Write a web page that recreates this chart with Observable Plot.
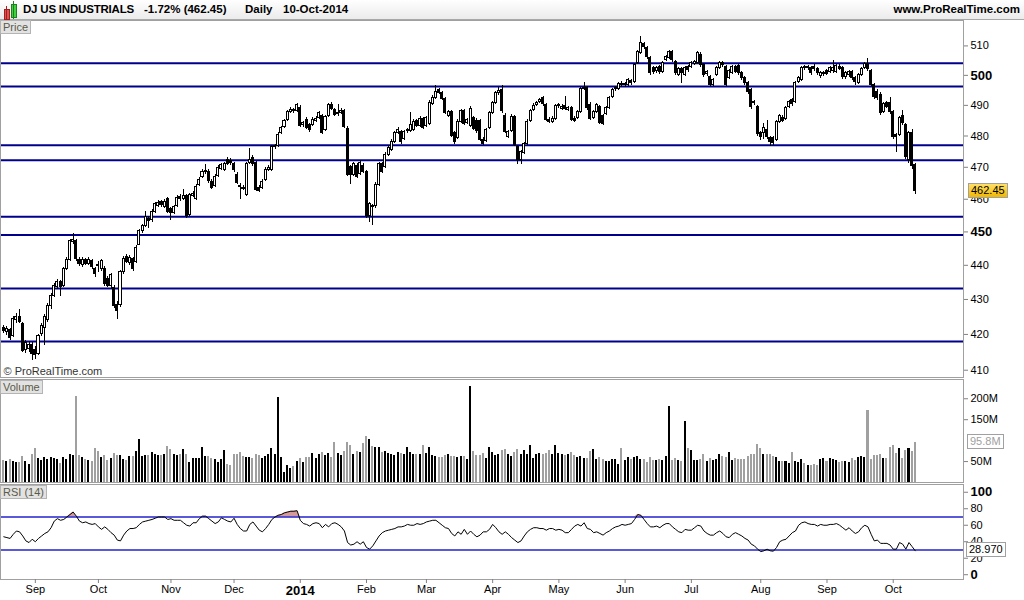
<!DOCTYPE html>
<html><head><meta charset="utf-8">
<script src="https://cdn.jsdelivr.net/npm/d3@7"></script>
<script src="https://cdn.jsdelivr.net/npm/@observablehq/plot@0.6"></script>
<style>
body{margin:0;background:#fff;font-family:"Liberation Sans",Arial,sans-serif;}
#wrap{position:relative;width:1024px;height:600px;overflow:hidden;background:#fff;}
#hdr{position:absolute;left:0;top:0;width:1024px;height:20px;background:linear-gradient(#ffffff,#ebebeb);border-bottom:1px solid #a8a8a8;box-sizing:border-box;}
.ht{position:absolute;top:3px;font-weight:bold;font-size:11.5px;color:#000;white-space:nowrap;}
.tag{position:absolute;left:0;background:#e2e2e2;border:1px solid #b4b4b4;font-size:11px;color:#5a5a48;padding:0 2px;line-height:12px;white-space:nowrap;}
.vbox{position:absolute;font-size:11px;line-height:13px;padding:0 2px;border:1px solid #a0a0a0;white-space:nowrap;}
</style></head>
<body><div id="wrap">
<div id="hdr">
  <div style="position:absolute;left:4px;top:9px;width:4px;height:9px;background:#e05050;border:1px solid #a02020"></div>
  <div style="position:absolute;left:6px;top:6px;width:1px;height:14px;background:#a02020"></div>
  <div style="position:absolute;left:11px;top:4px;width:4px;height:12px;background:#40d040;border:1px solid #208020"></div>
  <div style="position:absolute;left:13px;top:1px;width:1px;height:18px;background:#208020"></div>
  <div class="ht" style="left:23px;letter-spacing:-0.2px">DJ US INDUSTRIALS</div>
  <div class="ht" style="left:144px">-1.72% (462.45)</div>
  <div class="ht" style="left:245px">Daily</div>
  <div class="ht" style="left:283px">10-Oct-2014</div>
  <div class="ht" style="right:4px">www.ProRealTime.com</div>
</div>
</div>
<script>
// ---- data ----
const open = [
421.8,420.6,421.3,419.5,424.0,425.0,423.0,415.5,415.8,417.0,
415.5,414.5,420.0,421.8,424.0,428.0,431.0,433.5,435.0,434.0,
439.0,441.5,447.0,447.3,441.5,440.0,441.5,440.5,441.2,438.8,
440.2,438.8,439.0,436.0,434.0,433.4,428.5,428.3,437.9,442.4,
440.8,441.8,441.0,446.2,450.2,451.7,454.0,453.5,456.0,458.0,
459.0,457.5,460.0,457.0,455.8,458.0,460.8,460.0,461.0,455.0,
461.0,460.0,464.5,467.0,468.4,468.6,465.5,464.0,467.3,469.5,
469.3,472.4,472.0,471.0,467.7,464.1,463.5,461.3,471.5,473.0,
471.3,463.6,463.6,466.0,469.2,469.3,476.4,476.7,481.0,482.9,
485.2,487.8,488.5,488.0,489.2,483.5,485.3,483.5,483.6,485.0,
486.0,486.5,482.0,486.5,490.2,488.5,487.0,487.6,488.0,482.4,
470.0,467.6,470.5,468.0,470.5,468.5,454.7,457.8,457.8,464.5,
470.9,470.0,474.0,475.4,478.0,481.0,481.2,479.0,481.5,481.5,
481.8,484.8,483.3,485.5,483.4,484.0,490.5,492.5,495.0,494.0,
492.1,486.5,487.7,481.0,479.5,484.5,488.2,484.3,483.2,485.8,
485.0,484.8,478.8,478.5,482.5,487.5,490.8,494.0,495.0,486.6,
479.8,481.5,486.2,476.5,472.4,474.7,477.4,485.0,488.4,490.0,
491.2,492.3,490.0,485.3,484.6,485.6,489.7,488.8,489.8,488.5,
489.0,485.6,486.0,487.8,495.4,495.6,490.2,485.8,487.8,489.5,
486.5,487.2,489.0,492.8,495.3,495.5,497.2,496.6,496.7,498.0,
497.6,504.1,507.5,510.5,509.2,505.8,502.4,501.3,502.7,501.2,
505.1,505.8,507.8,504.4,500.0,502.0,500.0,502.7,502.7,503.9,
504.1,507.0,503.4,500.3,499.3,496.7,500.0,502.4,504.1,502.7,
499.0,500.7,502.7,503.1,500.7,499.0,497.3,495.0,491.0,489.4,
480.9,480.9,481.9,479.3,479.3,478.6,484.4,486.0,485.5,489.4,
491.7,491.0,497.6,498.5,502.7,502.4,502.4,502.7,502.0,499.7,
500.3,501.4,501.0,501.3,501.0,502.9,502.4,499.3,500.0,501.0,
499.0,497.3,500.0,502.4,503.7,501.4,496.7,494.5,493.5,487.7,
490.7,490.7,487.7,480.2,480.2,486.4,483.5,472.2,481.0,470.6];
const close = [
421.0,421.5,419.0,424.3,424.9,423.6,415.3,417.5,417.0,414.5,
414.3,419.5,422.3,425.0,428.1,431.0,434.0,435.0,433.5,438.8,
441.5,447.2,447.5,441.8,440.3,441.5,440.5,441.6,439.4,437.3,
439.7,441.2,434.4,434.0,437.0,428.0,426.6,437.9,441.8,441.0,
442.3,438.8,445.3,450.2,451.7,454.4,453.2,456.0,458.4,458.7,
458.2,459.0,456.0,455.8,457.5,460.5,460.0,461.0,454.8,461.2,
461.6,463.9,466.1,468.6,468.9,465.6,463.6,467.0,469.9,470.6,
470.9,471.2,471.3,469.0,465.2,463.8,463.3,470.9,472.4,471.0,
463.0,462.7,465.5,469.3,469.9,476.5,476.7,480.4,482.6,484.9,
487.8,488.5,488.0,490.1,483.3,484.1,482.6,482.0,485.3,485.6,
487.5,481.0,486.2,490.1,488.9,486.9,487.6,488.2,483.0,467.7,
467.7,471.0,467.0,471.4,468.6,454.7,458.4,457.5,464.5,470.9,
468.6,474.0,476.2,478.2,481.0,482.0,478.0,481.3,481.8,483.5,
484.6,483.4,485.6,482.7,485.9,490.9,492.5,494.4,494.2,492.2,
487.5,487.8,480.1,478.0,484.6,488.2,484.0,485.1,488.9,482.3,
481.5,478.8,477.5,481.8,487.5,490.8,494.1,494.7,488.0,481.4,
481.2,486.3,477.2,472.4,474.8,477.4,484.7,488.2,489.9,490.8,
491.8,490.3,485.3,484.6,485.6,489.8,490.1,489.6,488.8,489.0,
485.2,485.0,487.8,495.4,495.8,489.0,485.6,487.8,490.1,484.3,
484.0,489.0,492.4,495.1,495.8,497.0,496.6,497.0,498.3,497.3,
503.4,507.8,510.9,509.5,506.1,500.7,501.0,502.4,501.0,504.1,
506.1,507.8,505.1,500.7,502.0,500.7,502.4,501.7,504.1,504.4,
507.5,503.4,500.0,501.0,496.7,498.3,502.4,504.1,503.4,496.7,
501.4,502.7,501.2,500.7,499.0,497.3,494.3,489.4,490.7,480.6,
479.6,482.5,479.6,478.0,477.6,484.4,486.4,485.0,489.0,491.0,
490.3,497.3,499.0,502.4,502.4,502.7,500.7,502.0,500.7,500.7,
500.7,500.5,502.4,502.4,503.1,502.2,499.3,500.7,501.0,499.0,
497.6,500.0,502.0,503.7,502.0,496.7,492.7,492.3,487.4,490.3,
489.5,487.7,479.6,479.6,485.7,484.1,473.2,480.9,470.54,462.45];
const high = [
422.6,422.3,421.8,425.0,426.0,427.0,423.5,418.3,418.0,417.6,
416.6,420.0,423.0,425.6,428.8,431.8,434.6,435.7,435.5,439.4,
442.2,447.8,449.5,447.8,442.3,442.2,442.0,442.4,441.8,439.4,
441.0,441.8,439.6,436.8,437.6,434.0,429.4,438.4,442.5,443.2,
443.0,442.4,446.0,450.8,452.4,456.2,454.6,456.7,459.0,459.5,
459.6,459.8,460.5,457.6,458.2,461.2,461.5,463.0,461.6,461.8,
462.3,464.5,466.8,469.3,471.0,469.2,466.1,467.6,470.5,471.3,
471.6,473.0,472.8,471.6,468.3,464.8,464.2,471.5,476.0,473.6,
471.9,464.3,466.1,469.9,470.6,477.1,477.4,481.0,483.2,485.5,
488.4,489.2,489.1,490.7,489.8,484.8,485.9,484.1,485.9,486.3,
488.1,487.1,486.8,490.7,490.8,489.1,490.3,488.9,488.6,483.0,
470.6,471.6,471.1,472.0,471.1,469.1,459.0,458.4,465.1,471.5,
471.5,474.6,476.8,478.8,481.6,482.6,481.8,481.9,482.4,487.5,
485.2,485.4,486.2,486.1,486.5,491.5,493.1,496.6,495.6,494.6,
492.7,488.4,488.3,481.6,485.2,488.8,488.8,485.8,489.5,486.4,
485.6,485.4,479.4,482.4,488.1,491.4,494.7,495.8,496.5,487.2,
481.8,486.9,486.8,477.1,475.4,478.0,485.3,488.8,490.5,491.4,
492.4,492.9,490.6,485.9,486.2,490.4,490.7,490.2,493.0,489.6,
489.6,486.2,488.4,496.0,497.6,496.2,490.8,488.4,490.7,490.1,
487.1,489.6,493.0,495.7,496.4,497.6,497.8,497.6,498.9,498.6,
504.0,508.4,513.4,511.1,509.8,506.4,503.0,503.0,503.3,504.7,
506.7,508.4,508.4,505.0,502.6,502.6,503.0,503.3,504.7,505.0,
508.1,507.6,504.0,501.6,499.9,498.9,503.0,504.7,504.7,503.3,
502.0,503.3,503.3,503.7,501.3,499.6,497.9,495.6,491.6,490.0,
481.5,484.0,485.0,479.9,479.9,485.0,487.0,486.6,489.6,491.6,
492.3,497.9,499.6,503.0,503.3,503.3,503.0,503.7,502.6,501.3,
501.3,502.0,503.0,505.1,503.7,503.5,503.0,501.3,501.6,501.6,
499.6,500.6,502.6,504.3,505.8,502.0,497.3,495.1,494.1,490.9,
491.3,492.7,488.3,480.8,486.3,488.4,484.1,481.5,482.0,471.2];
const low = [
420.2,419.8,418.3,419.0,423.2,423.0,414.8,414.6,415.0,412.8,
413.0,414.0,419.4,417.0,423.5,427.2,430.5,432.8,431.0,433.6,
438.5,441.0,446.2,441.2,439.6,439.4,439.8,440.0,438.8,436.5,
437.8,438.2,433.8,433.4,433.0,427.4,424.3,427.8,437.3,440.4,
440.0,438.2,440.4,445.8,449.6,451.2,451.0,453.0,455.5,457.3,
457.4,457.0,455.5,453.5,455.2,457.5,459.4,459.5,454.2,454.6,
460.4,459.5,464.0,466.5,467.8,465.0,463.0,463.5,466.8,469.0,
468.7,470.6,470.6,468.4,464.6,459.9,462.6,460.8,471.0,470.4,
462.4,462.0,463.0,465.5,468.6,468.8,475.8,476.2,480.4,482.4,
484.6,487.2,487.4,487.5,482.7,482.9,482.0,481.0,483.0,484.4,
485.5,480.4,481.5,486.0,488.3,486.3,486.4,487.0,482.4,467.0,
464.5,467.0,466.4,467.5,468.0,454.0,452.9,452.0,457.2,464.0,
468.0,469.5,473.5,475.0,477.5,480.4,477.4,478.5,480.9,481.0,
481.3,482.8,482.8,482.1,482.9,483.5,490.0,492.0,493.6,491.6,
486.9,486.0,479.5,477.4,479.0,484.0,483.4,483.7,482.7,481.7,
480.9,478.2,476.9,478.0,482.0,487.0,490.3,493.4,487.4,480.8,
479.2,481.0,476.6,471.0,471.0,474.2,476.9,484.5,487.9,489.5,
490.7,489.7,484.7,484.0,484.0,485.1,489.1,488.2,488.2,487.9,
484.6,484.4,485.5,487.3,494.8,488.4,485.0,485.2,487.3,483.7,
483.4,486.7,488.5,492.3,494.7,495.0,496.0,496.0,496.2,496.7,
497.1,503.6,507.0,508.9,505.5,500.1,500.4,500.7,500.4,500.7,
504.6,505.3,504.5,500.1,499.5,497.3,499.5,501.1,502.2,503.3,
503.6,502.8,499.4,499.7,496.1,496.1,499.5,501.9,502.8,496.1,
498.5,500.2,500.6,500.1,498.4,496.7,493.7,488.8,490.1,480.0,
478.4,479.0,479.0,476.6,477.0,478.1,483.9,484.4,485.0,488.9,
489.7,490.5,497.1,498.0,501.8,501.8,500.1,501.4,500.1,499.1,
499.7,499.9,500.5,500.7,500.5,501.6,498.7,498.7,499.4,498.4,
496.6,496.8,499.5,501.9,501.4,496.1,492.1,491.7,486.8,487.2,
488.9,487.1,479.0,474.7,479.7,483.5,472.6,471.2,469.2,461.6];
// volume in millions
const volume = [
52.8,50.4,54.4,50.4,48.8,48,62.4,50.4,43.2,67.2,
81.6,57.6,52.8,60,56,60,58.4,56,45.6,60,
56,67.2,64.8,206.4,64.8,60,55.2,52.8,50.4,81.6,
74.4,60,64.8,52.8,57.6,69.6,64.8,64.8,55.2,52.8,
62.4,62.4,74.4,103.2,62.4,64.8,64.8,72,67.2,64.8,
64.8,67.2,86.4,79.2,67.2,64.8,67.2,79.2,67.2,48,
57.6,57.6,57.6,84,62.4,62.4,57.6,55.2,48,55.2,
76.8,43.2,40.8,67.2,67.2,72,62.4,60,60,57.6,
67.2,64.8,57.6,62.4,67.2,81.6,67.2,204,60,24,
40.8,33.6,38.4,50.4,57.6,48,60,60,69.6,57.6,
67.2,72,64.8,69.6,60,96,69.6,64.8,74.4,96,
88.8,67.2,74.4,72,93.6,110.4,103.2,86.4,84,84,
72,74.4,69.6,67.2,64.8,72,69.6,67.2,84,72,
67.2,67.2,67.2,88.8,69.6,82.4,64.8,62.4,60,60,
64.8,67.2,62.4,62.4,60,62.4,62.4,55.2,230.4,74.4,
64.8,64.8,69.6,57.6,84,72,64.8,67.2,76.8,79.2,
67.2,62.4,72,79.2,67.2,76.8,67.2,88.8,57.6,67.2,
69.6,67.2,69.6,76.8,67.2,88.8,69.6,67.2,64.8,67.2,
72,64.8,60,62.4,57.6,58.4,74.4,79.2,55.2,60,
55.2,50.4,50.4,55.2,55.2,43.2,81.6,52.8,60,55.2,
60,62.4,55.2,55.2,48,60,52.8,52.8,55.2,52.8,
62.4,182.4,52.8,57.6,52.8,50.4,146.4,81.6,76.8,52.8,
52.8,55.2,67.2,50.4,57.6,52.8,55.2,67.2,62.4,60,
72,52.8,57.6,55.2,55.2,55.2,62.4,67.2,67.2,91.2,
81.6,67.2,67.2,67.2,62.4,60,50.4,50.4,50.4,45.6,
72,50.4,48,55.2,45.6,40.8,40.8,43.2,41.6,55.2,
57.6,50.4,57.6,55.2,52.8,48,49.6,50.4,48,57.6,
52.8,60,62.4,60,172.8,55.2,64.8,64.8,67.2,57.6,
57.6,84,88.8,69.6,81.6,57.6,76.8,81.6,74.4,95.8];
const rsi = [
46,45,44,49,53,52,47,41,39,43,
40,44,47,50,52,57,65,68,66,67,
70,73,76,71,65,63,64,62,61,62,
58,55,58,55,51,48,42,41,48,53,
56,56,57,61,64,65,66,67,68.5,70,
70,70,67,68,66,66,66,63,60,59,
63,63,68,71,71,68,65,62,64,69,
67,65,64,68.5,61,56,53,53,61,64,
59,54,52,56,61,67,70,72,73,75,
76,77,77,77.6,66,62,61,59,62,63,
62,57,61,58,62,63,61,58,53,39,
36,37,40,37,40,33,31,35,41,47,
51,53,54,55,56,58,58,59,61,60,
60,62,61,62,64,65,66,66,63,60,
57,56,50,47,52,49,55,49,53,49,
46,48,52,52,55,61,57,52,49,52,
49,45,42,39,41,47,52,55,57,57,
56,56,54,56,56,54,55,54,51,51,
55,59,61,59,63,56,55,51,52,50,
48,51,53,56,58,59,61,60,61,62,
67,73,72,67,62,58,58,59,57,60,
62,62,58,55,52,51,55,54,54,57,
60,59,53,50,48,48,51,53,50,46,
45,49,51,49,47,44,42,37,35,31,
28,29,31,29,28.5,33,40,42,43,47,
51,53,60,63,64,62,61,61,59,61,
60,60,61,61,62,60,57,54,57,53,
50,52,57,60,58,49,41,42,38,38,
38,36,31,31,39,37,31,39,34,28.97];
const levels = [504.1, 496.3, 477.0, 472.2, 454.6, 449.1, 433.2, 418.0];
const priceTicks = [510, 490, 480, 470, 460, 440, 430, 420, 410];
const priceTicksBold = [500, 450];
const volumeTicks = [50, 150, 200];
const rsiTicks = [80, 60, 40, 20];
const rsiTicksBold = [100, 0];
const rsiBands = [70, 30];
const holidays = ["2013-09-02","2013-11-28","2013-12-25","2014-01-01","2014-01-20","2014-02-17","2014-04-18","2014-05-26","2014-07-04","2014-09-01"];
const firstDay = "2013-08-19";

// ---- trading calendar ----
const fmtKey = d3.timeFormat("%Y-%m-%d");
const dates = [];
for (let d = d3.timeParse("%Y-%m-%d")(firstDay); dates.length < close.length; d = d3.timeDay.offset(d, 1)) {
  const dow = d.getDay();
  if (dow === 0 || dow === 6 || holidays.includes(fmtKey(d))) continue;
  dates.push(d);
}
const days = close.map((c, i) => ({i, date: dates[i], open: open[i], high: high[i], low: low[i], close: c, volume: volume[i], rsi: rsi[i], up: c >= open[i]}));
const monthStarts = days.filter((d, k) => k > 0 && d.date.getMonth() !== days[k - 1].date.getMonth());
const tickIdx = monthStarts.filter(d => d.date.getMonth() !== 0).map(d => d.i);
const tickIdxYear = monthStarts.filter(d => d.date.getMonth() === 0).map(d => d.i);
const labelOf = i => d3.timeFormat("%b")(dates[i]);
const yearOf = i => d3.timeFormat("%Y")(dates[i]);

const W = 1024, MR = 61;
const xDomain = [-1.046, 304.28];
const hw = 0.32;
const font = {fontFamily: "'Liberation Sans', Arial, sans-serif", fontSize: "11px", background: "transparent", overflow: "visible", color: "#000"};
const wrap = document.getElementById("wrap");
const axisCommon = {anchor: "right", tickSize: 4, tickPadding: 3, stroke: "#808080", fill: "#000", label: null};

function place(svg, top) {
  svg.style.position = "absolute"; svg.style.left = "0px"; svg.style.top = top + "px";
  wrap.appendChild(svg);
}
function tag(text, top) {
  const el = document.createElement("div");
  el.className = "tag"; el.textContent = text; el.style.top = top + "px";
  wrap.appendChild(el);
}
function vbox(text, centerY, left, bg, color) {
  const el = document.createElement("div");
  el.className = "vbox"; el.textContent = text;
  el.style.left = left + "px"; el.style.top = (centerY - 8) + "px";
  el.style.background = bg; el.style.color = color;
  wrap.appendChild(el);
}

// ---- price panel ----
const PT = 20, PH = 357;
const price = Plot.plot({
  width: W, height: PH, marginLeft: 0, marginRight: MR, marginTop: 0, marginBottom: 0,
  style: font,
  x: {domain: xDomain, axis: null},
  y: {type: "log", domain: [408.0, 518.8], axis: null},
  marks: [
    Plot.ruleY(levels, {stroke: "#00008c", strokeWidth: 2}),
    Plot.ruleX(days, {x: "i", y1: "low", y2: "high", stroke: "#000", strokeWidth: 1, shapeRendering: "crispEdges"}),
    Plot.rect(days, {x1: d => d.i - hw, x2: d => d.i + hw, y1: "open", y2: "close",
      fill: d => d.up ? "#fff" : "#000", stroke: "#000", strokeWidth: 1, shapeRendering: "crispEdges"}),
    Plot.frame({stroke: "#a0a0a0"}),
    Plot.axisY(priceTicks, {...axisCommon, tickFormat: d3.format("d"), fontSize: 11}),
    Plot.axisY(priceTicksBold, {...axisCommon, tickFormat: d3.format("d"), fontSize: 13, fontWeight: "bold"}),
    Plot.text(["© ProRealTime.com"], {frameAnchor: "bottom-left", dx: 3, dy: -3, fill: "#333", fontSize: 11, textAnchor: "start"})
  ]
});
place(price, PT);
tag("Price", PT);
const last = days[days.length - 1];
vbox(d3.format(".2f")(last.close), PT + price.scale("y").apply(last.close), 968, "linear-gradient(#ffe066,#f2b800)", "#000");

// ---- volume panel ----
const VT = 379, VH = 103;
const vol = Plot.plot({
  width: W, height: VH, marginLeft: 0, marginRight: MR, marginTop: 0, marginBottom: 0,
  style: font,
  x: {domain: xDomain, axis: null},
  y: {domain: [0, 246], axis: null},
  marks: [
    Plot.rectY(days, {x1: d => d.i - hw, x2: d => d.i + hw, y1: 0, y2: "volume", fill: d => d.up ? "#000" : "#a0a0a0", shapeRendering: "crispEdges"}),
    Plot.frame({stroke: "#a0a0a0"}),
    Plot.axisY(volumeTicks, {...axisCommon, tickFormat: d => d + "M", fontSize: 11})
  ]
});
place(vol, VT);
tag("Volume", VT + 1);
vbox(d3.format(".1f")(last.volume) + "M", VT + vol.scale("y").apply(last.volume), 967, "#fff", "#a0a0a0");

// ---- RSI panel ----
const RT = 484, RH = 116;
const rsiPlot = Plot.plot({
  width: W, height: RH, marginLeft: 0, marginRight: MR, marginTop: 0, marginBottom: 21,
  style: font,
  x: {domain: xDomain, axis: null},
  y: {domain: [-5.8, 109.4], axis: null},
  marks: [
    Plot.areaY(days, {x: "i", y1: 70, y2: d => Math.max(70, d.rsi), fill: "#d49a9a"}),
    Plot.ruleY(rsiBands, {stroke: "#2222cc", strokeWidth: 1.3}),
    Plot.line(days, {x: "i", y: "rsi", stroke: "#000", strokeWidth: 1}),
    Plot.frame({stroke: "#a0a0a0"}),
    Plot.axisY(rsiTicks, {...axisCommon, fontSize: 11}),
    Plot.axisY(rsiTicksBold, {...axisCommon, fontSize: 13, fontWeight: "bold"}),
    Plot.axisX(tickIdx, {anchor: "bottom", tickSize: 4, tickPadding: 2, tickFormat: labelOf, stroke: "#808080", fill: "#000", fontSize: 11, label: null}),
    Plot.axisX(tickIdxYear, {anchor: "bottom", tickSize: 4, tickPadding: 2, tickFormat: yearOf, stroke: "#808080", fill: "#000", fontSize: 13, fontWeight: "bold", label: null})
  ]
});
place(rsiPlot, RT);
tag("RSI (14)", RT + 1);
vbox(d3.format(".3f")(last.rsi), RT + rsiPlot.scale("y").apply(last.rsi), 966, "#fff", "#000");
</script>
</body></html>
